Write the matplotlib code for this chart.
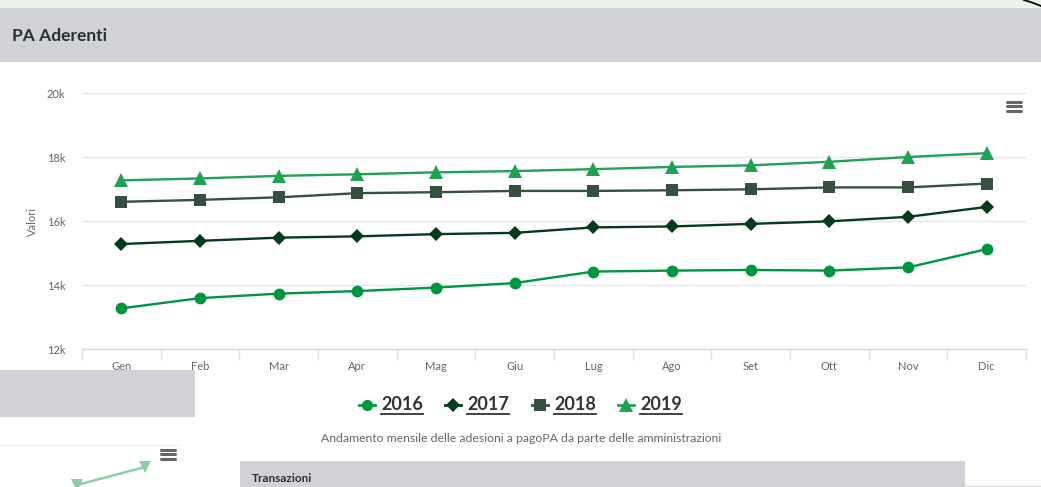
import matplotlib
matplotlib.use("Agg")
import matplotlib.pyplot as plt
from matplotlib.patches import Rectangle
from matplotlib.ticker import FuncFormatter, FixedLocator

plt.rcParams["font.family"] = ["Lato", "DejaVu Sans"]

# --- data -------------------------------------------------------------
months = ["Gen", "Feb", "Mar", "Apr", "Mag", "Giu",
          "Lug", "Ago", "Set", "Ott", "Nov", "Dic"]
pa_2016 = [13270, 13590, 13730, 13810, 13920, 14060,
           14420, 14450, 14470, 14450, 14550, 15120]
pa_2017 = [15280, 15380, 15480, 15520, 15590, 15630,
           15800, 15830, 15910, 15990, 16130, 16440]
pa_2018 = [16600, 16660, 16740, 16870, 16900, 16940,
           16940, 16960, 16990, 17050, 17050, 17170]
pa_2019 = [17270, 17330, 17410, 17460, 17520, 17560,
           17620, 17690, 17740, 17850, 18000, 18120]
y_ticks = [12000, 14000, 16000, 18000, 20000]

series = [
    ("2016", pa_2016, "#009640", "o", 8.5),
    ("2017", pa_2017, "#053b1b", "D", 7.0),
    ("2018", pa_2018, "#36503f", "s", 8.5),
    ("2019", pa_2019, "#21a152", "^", 10.0),
]

caption = "Andamento mensile delle adesioni a pagoPA da parte delle amministrazioni"

# fragment of the next chart peeking in at the bottom
next_x = [77, 145]
next_y = [485, 467]

W, H = 1041, 487
fig = plt.figure(figsize=(W / 100, H / 100), dpi=100)
fig.patch.set_facecolor("white")

# page overlay in pixel coordinates
bg = fig.add_axes([0, 0, 1, 1], zorder=0)
bg.set_xlim(0, W)
bg.set_ylim(H, 0)
bg.axis("off")

bg.add_patch(Rectangle((0, 0), W, 8, color="#eaf3e6", lw=0))
bg.add_patch(Rectangle((0, 8), W, 54, color="#d1d2d7", lw=0))
bg.plot([1024, 1032, 1041], [0, 2.5, 6], color="black", lw=1.3)
bg.text(12, 36, "PA Aderenti", fontsize=12.5, fontweight="bold",
        color="#2b2f33", va="center", ha="left")

# hamburger menu icons
for cx, cy in [(1014, 106), (168, 454)]:
    for dy in (-4.5, 0, 4.5):
        bg.plot([cx - 7, cx + 7], [cy + dy, cy + dy], color="#666666",
                lw=2.2, solid_capstyle="round")

# legend drawn by hand (highcharts style, underlined labels)
leg_x = [367, 453, 540, 626]
for (name, _, col, mk, ms), lx in zip(series, leg_x):
    bg.plot([lx - 8, lx + 8], [405, 405], color=col, lw=2)
    bg.plot([lx], [405], marker=mk, color=col, markersize=ms * 0.95,
            markeredgewidth=0)
    bg.text(lx + 14, 405, name, fontsize=13, fontweight="bold",
            color="#333333", va="center", ha="left")
    bg.plot([lx + 14, lx + 56], [414, 414], color="#333333", lw=1.3)

bg.text(521, 439, caption, fontsize=8.8, color="#666666",
        ha="center", va="center")

# lower page fragments
bg.add_patch(Rectangle((0, 370), 195, 47, color="#d1d2d7", lw=0))
bg.plot([0, 178], [445, 445], color="#eeeeee", lw=1)
bg.plot(next_x, next_y, color="#8fcca5", lw=1.8, marker="v",
        markersize=9, markeredgewidth=0)
bg.add_patch(Rectangle((240, 461), 725, 30, color="#d1d2d7", lw=0))
bg.text(252, 478, "Transazioni", fontsize=8.5, fontweight="bold",
        color="#2b2f33", va="center", ha="left")
bg.plot([965, W], [486, 486], color="#dddddd", lw=1)

# --- main chart -------------------------------------------------------
ax = fig.add_axes([82 / W, (H - 349) / H, 944 / W, 256 / H], zorder=1)
ax.set_facecolor("none")
x = list(range(len(months)))
for name, vals, col, mk, ms in series:
    ax.plot(x, vals, color=col, lw=1.7, marker=mk, markersize=ms,
            markeredgewidth=0, clip_on=False, zorder=3)

ax.set_xlim(-0.5, len(months) - 0.5)
ax.set_ylim(12000, 20000)
ax.set_yticks(y_ticks)
ax.yaxis.set_major_formatter(FuncFormatter(lambda v, p: f"{int(v/1000)}k"))
ax.set_xticks(x)
ax.set_xticklabels(months)
ax.xaxis.set_minor_locator(FixedLocator([i - 0.5 for i in range(len(months) + 1)]))

ax.grid(axis="y", color="#e6e6e6", lw=1)
ax.set_axisbelow(True)
for side in ("top", "right", "left"):
    ax.spines[side].set_visible(False)
ax.spines["bottom"].set_color("#ccd6eb")
ax.spines["bottom"].set_linewidth(1)

ax.tick_params(axis="y", length=0, labelsize=8, labelcolor="#666666", pad=12)
ax.tick_params(axis="x", which="major", length=0, labelsize=8,
               labelcolor="#666666", pad=9)
ax.tick_params(axis="x", which="minor", length=8, color="#dde3ef", width=1)
ax.set_ylabel("Valori", fontsize=8, color="#666666", labelpad=6)

fig.savefig("out.png", dpi=100, facecolor="white")
